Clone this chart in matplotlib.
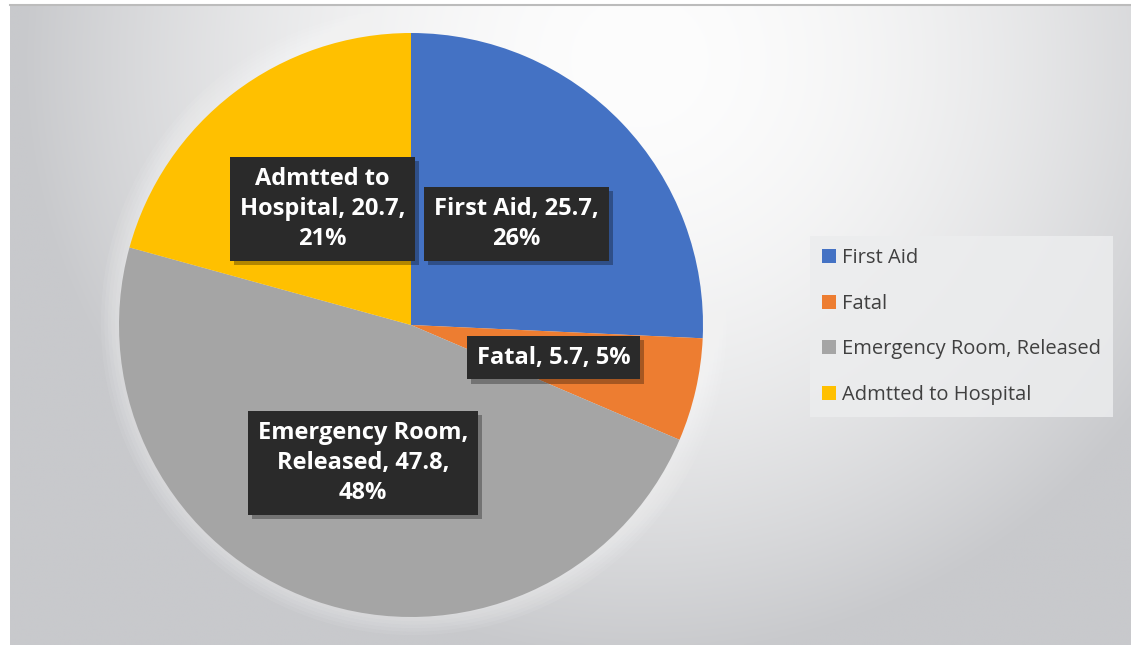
import numpy as np
import matplotlib
matplotlib.use("Agg")
import matplotlib.pyplot as plt
import matplotlib.patheffects as pe
from matplotlib.patches import Circle

categories = ["First Aid", "Fatal", "Emergency Room, Released", "Admtted to Hospital"]
values = [25.7, 5.7, 47.8, 20.7]
pct_labels = [26, 5, 48, 21]
label_texts = ["First Aid, 25.7,\n26%", "Fatal, 5.7, 5%",
               "Emergency Room,\nReleased, 47.8,\n48%", "Admtted to\nHospital, 20.7,\n21%"]
colors = ["#4472C4", "#ED7D31", "#A5A5A5", "#FFC000"]

W, H = 1131, 645
fig = plt.figure(figsize=(W / 100, H / 100), dpi=100)
fig.patch.set_facecolor("white")

# background gradient
bg = fig.add_axes([10 / W, 0, (W - 10) / W, 641 / H])
bg.set_axis_off()
xs = np.linspace(10, W, 600)
ys = np.linspace(4, H, 350)
X, Y = np.meshgrid(xs, ys)
d = np.sqrt(((X - 640) / 620) ** 2 + ((Y - 60) / 600) ** 2)
t = np.clip(d, 0, 1) ** 1.8
gray = np.array([200, 201, 204]) / 255
white = np.array([253, 253, 253]) / 255
img = white[None, None, :] * (1 - t[..., None]) + gray[None, None, :] * t[..., None]
bg.imshow(img, extent=[0, 1, 0, 1], aspect="auto", origin="upper")
bg.set_xlim(0, 1)
bg.set_ylim(0, 1)
bg.plot([0, 1], [0.999, 0.999], color="#bcbcbc", lw=1.5, transform=bg.transAxes, clip_on=False)

# pie axes
cx, cy, r = 411, 645 - 325, 292
ax = fig.add_axes([(cx - r) / W, (cy - r) / H, 2 * r / W, 2 * r / H])
ax.set_axis_off()
for k in range(1, 7):
    ax.add_patch(Circle((0.01, 0.01), 1 + 0.012 * k, facecolor="white", edgecolor="none",
                        alpha=0.07, zorder=0, clip_on=False))
wedges, _ = ax.pie(values, colors=colors, startangle=90, counterclock=False,
                   radius=1.0, wedgeprops=dict(linewidth=0, zorder=2))
ax.set_xlim(-1, 1)
ax.set_ylim(-1, 1)

font = "Open Sans"
for w, txt in zip(wedges, label_texts):
    ang = np.deg2rad((w.theta1 + w.theta2) / 2)
    x, y = 0.5 * np.cos(ang), 0.5 * np.sin(ang)
    t_ = ax.text(x, y, txt, ha="center", va="center", fontsize=17, fontweight="bold",
                 family=font, color="white", linespacing=1.35, zorder=4,
                 bbox=dict(boxstyle="square,pad=0.42", facecolor="#2a2a2a", edgecolor="none"))
    t_.get_bbox_patch().set_path_effects([
        pe.withSimplePatchShadow(offset=(3, -3), shadow_rgbFace="black", alpha=0.3)])

leg = fig.legend(wedges, categories, loc="upper left", bbox_to_anchor=(810 / W, 409 / H),
                 borderaxespad=0, frameon=True, fancybox=False,
                 prop=dict(family=font, size=14.5), labelcolor="#404040",
                 labelspacing=1.27, handlelength=0.7, handleheight=0.7, handletextpad=0.3,
                 borderpad=0.6)
fr = leg.get_frame()
fr.set_facecolor("#ecedee")
fr.set_alpha(0.85)
fr.set_edgecolor("none")

fig.savefig("out.png", dpi=100, facecolor="white")
